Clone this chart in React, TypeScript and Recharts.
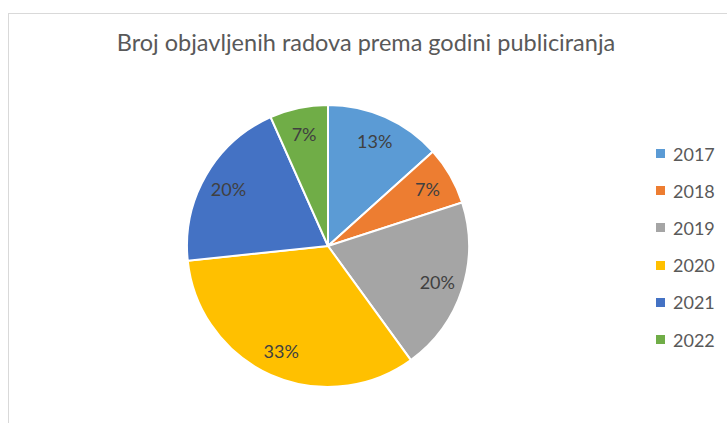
import { PieChart, Pie, Cell, Legend } from "recharts";

const years = ["2017", "2018", "2019", "2020", "2021", "2022"];
const counts = [2, 1, 3, 5, 3, 1];
const colors = ["#5B9BD5", "#ED7D31", "#A5A5A5", "#FFC000", "#4472C4", "#70AD47"];

const data = years.map((y, i) => ({ name: y, value: counts[i] }));
const total = counts.reduce((a, b) => a + b, 0);

const RADIAN = Math.PI / 180;

const renderLabel = (props: any) => {
  const { cx, cy, midAngle, outerRadius, value } = props;
  const r = outerRadius * 0.815;
  const x = cx + r * Math.cos(-midAngle * RADIAN);
  const y = cy + r * Math.sin(-midAngle * RADIAN);
  return (
    <text
      x={x}
      y={y}
      fill="#404040"
      fontSize={18}
      fontFamily="Lato, 'Open Sans', sans-serif"
      textAnchor="middle"
      dominantBaseline="central"
    >
      {`${Math.round((value / total) * 100)}%`}
    </text>
  );
};

const renderLegend = () => (
  <div style={{ fontFamily: "Lato, 'Open Sans', sans-serif" }}>
    {data.map((d, i) => (
      <div key={d.name} style={{ display: "flex", alignItems: "center", height: 37.2 }}>
        <span style={{ width: 9, height: 9, background: colors[i], marginRight: 8, display: "inline-block" }} />
        <span style={{ fontSize: 18, color: "#595959" }}>{d.name}</span>
      </div>
    ))}
  </div>
);

export default function App() {
  return (
    <div style={{ position: "absolute", left: 0, top: 0, width: 727, height: 423, overflow: "hidden", background: "#fff" }}>
      <div
        style={{
          position: "absolute",
          left: 8,
          top: 13,
          width: 740,
          height: 430,
          border: "1px solid #D9D9D9",
          boxSizing: "border-box",
        }}
      />
      <div
        style={{
          position: "absolute",
          left: 0,
          top: 28,
          width: 732,
          textAlign: "center",
          fontFamily: "Lato, 'Open Sans', sans-serif",
          fontSize: 23.5,
          color: "#595959",
        }}
      >
        Broj objavljenih radova prema godini publiciranja
      </div>
      <div style={{ position: "absolute", left: 0, top: 0 }}>
        <PieChart width={727} height={423}>
          <Pie
            data={data}
            dataKey="value"
            nameKey="name"
            cx={323}
            cy={241}
            outerRadius={141}
            startAngle={90}
            endAngle={-270}
            stroke="#ffffff"
            strokeWidth={2}
            label={renderLabel}
            labelLine={false}
            isAnimationActive={false}
          >
            {data.map((d, i) => (
              <Cell key={d.name} fill={colors[i]} />
            ))}
          </Pie>
          <Legend
            content={renderLegend}
            layout="vertical"
            verticalAlign="top"
            align="right"
            wrapperStyle={{ position: "absolute", left: 656, top: 135, width: 70 }}
          />
        </PieChart>
      </div>
    </div>
  );
}
